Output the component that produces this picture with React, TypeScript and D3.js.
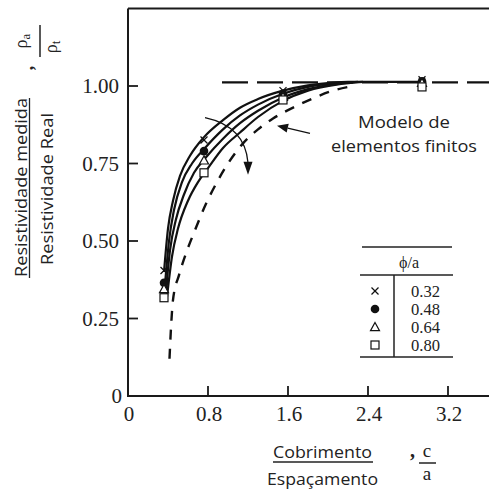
import React from "react";
import * as d3 from "d3";

const xTicks = [0.8, 1.6, 2.4, 3.2];
const xTickLabels = ["0", "0.8", "1.6", "2.4", "3.2"];
const xTickValues = [0, 0.8, 1.6, 2.4, 3.2];
const yTickValues = [0, 0.25, 0.5, 0.75, 1.0];
const yTickLabels = ["0", "0.25", "0.50", "0.75", "1.00"];

const seriesNames = ["0.32", "0.48", "0.64", "0.80"];
const seriesSymbols = ["x", "dot", "tri", "sq"];

const pointX = [0.36, 0.76, 1.55, 2.94];
const pointsA = [0.405, 0.826, 0.985, 1.02];
const pointsB = [0.365, 0.79, 0.975, 1.015];
const pointsC = [0.345, 0.76, 0.965, 1.01];
const pointsD = [0.317, 0.72, 0.955, 0.997];

const curveA: [number, number][] = [[0.36, 0.4], [0.4, 0.54], [0.45, 0.63], [0.52, 0.71], [0.62, 0.775], [0.76, 0.835], [0.95, 0.89], [1.12, 0.93], [1.3, 0.958], [1.55, 0.985], [1.8, 1.002], [2.05, 1.011], [2.2, 1.013], [2.94, 1.013]];
const curveB: [number, number][] = [[0.37, 0.36], [0.41, 0.5], [0.46, 0.6], [0.54, 0.69], [0.64, 0.75], [0.77, 0.8], [0.95, 0.86], [1.12, 0.905], [1.3, 0.94], [1.55, 0.975], [1.8, 0.997], [2.1, 1.01], [2.25, 1.013]];
const curveC: [number, number][] = [[0.38, 0.34], [0.42, 0.47], [0.48, 0.57], [0.56, 0.65], [0.66, 0.72], [0.78, 0.77], [0.95, 0.83], [1.12, 0.88], [1.3, 0.92], [1.55, 0.963], [1.8, 0.99], [2.1, 1.007], [2.3, 1.013]];
const curveD: [number, number][] = [[0.39, 0.32], [0.44, 0.45], [0.5, 0.54], [0.6, 0.63], [0.7, 0.69], [0.8, 0.735], [0.95, 0.8], [1.12, 0.85], [1.3, 0.9], [1.55, 0.952], [1.8, 0.985], [2.1, 1.005], [2.35, 1.013]];

const feModel: [number, number][] = [[0.415, 0.12], [0.43, 0.22], [0.45, 0.31], [0.51, 0.39], [0.58, 0.46], [0.67, 0.535], [0.78, 0.62], [0.89, 0.69], [1.0, 0.75], [1.15, 0.815], [1.3, 0.86], [1.45, 0.895], [1.68, 0.935], [1.85, 0.96], [2.05, 0.985], [2.25, 1.0]];

const asymptote = 1.012;
const asymptoteStart = 0.94;

export default function App() {
  const W = 489, H = 492;
  const x = d3.scaleLinear().domain([0, 3.61]).range([128, 489]);
  const y = d3.scaleLinear().domain([0, 1.25]).range([396, 8.5]);
  const line = d3.line<[number, number]>().x(d => x(d[0])).y(d => y(d[1])).curve(d3.curveMonotoneX);

  const curves = [curveA, curveB, curveC, curveD];
  const pts = [pointsA, pointsB, pointsC, pointsD];

  const sym = (kind: string, cx: number, cy: number, key: string) => {
    if (kind === "x") {
      const s = 3.5;
      return <g key={key} stroke="#111" strokeWidth={1.3}>
        <line x1={cx - s} y1={cy - s} x2={cx + s} y2={cy + s} />
        <line x1={cx - s} y1={cy + s} x2={cx + s} y2={cy - s} />
      </g>;
    }
    if (kind === "dot") return <circle key={key} cx={cx} cy={cy} r={4.3} fill="#111" />;
    if (kind === "tri") {
      const s = 4.5;
      return <path key={key} d={`M${cx},${cy - s}L${cx + s},${cy + s * 0.8}L${cx - s},${cy + s * 0.8}Z`} fill="white" stroke="#111" strokeWidth={1.2} />;
    }
    return <rect key={key} x={cx - 4} y={cy - 4} width={8} height={8} fill="white" stroke="#111" strokeWidth={1.2} />;
  };

  const serif = "'Liberation Serif', 'DejaVu Serif', serif";
  const sans = "'Open Sans', 'Noto Sans', sans-serif";

  const arcStart = [0.77, 0.898];
  const arcCtrl = [1.17, 0.87];
  const arcEnd = [1.2, 0.72];
  const ax0 = x(arcStart[0]), ay0 = y(arcStart[1]);
  const axc = x(arcCtrl[0]), ayc = y(arcCtrl[1]);
  const ax1 = x(arcEnd[0]), ay1 = y(arcEnd[1]);

  const arrStart = [1.82, 0.847];
  const arrEnd = [1.49, 0.872];
  const sx = x(arrStart[0]), sy = y(arrStart[1]);
  const ex = x(arrEnd[0]), ey = y(arrEnd[1]);
  const ang = Math.atan2(ey - sy, ex - sx);
  const hl = 11, hw = 4.5;
  const hx = ex - hl * Math.cos(ang), hy = ey - hl * Math.sin(ang);

  const lgTop = 247, lgMid = 275, lgBot = 357, lgL = 360, lgR = 453, lgDiv = 394;

  return (
    <svg width={W} height={H} style={{ position: "absolute", left: 0, top: 0, background: "white" }}>
      <rect width={W} height={H} fill="white" />
      <g stroke="#1a1a1a" strokeWidth={2} fill="none">
        <line x1={128} y1={y(1.25)} x2={489} y2={y(1.25)} />
        <line x1={128} y1={y(1.25)} x2={128} y2={y(0)} />
        <line x1={127} y1={y(0)} x2={489} y2={y(0)} />
      </g>
      {xTicks.map(t => <line key={"xt" + t} x1={x(t)} x2={x(t)} y1={y(0)} y2={y(0) - 10} stroke="#1a1a1a" strokeWidth={1.8} />)}
      {yTickValues.filter(v => v > 0).map(t => <line key={"yt" + t} x1={128} x2={138} y1={y(t)} y2={y(t)} stroke="#1a1a1a" strokeWidth={1.8} />)}
      {xTickValues.map((t, i) => <text key={"xl" + t} x={x(t) + 1} y={421} textAnchor="middle" fontFamily={serif} fontSize={21} fill="#222">{xTickLabels[i]}</text>)}
      {yTickValues.map((t, i) => <text key={"yl" + t} x={t === 0 ? 122 : 119} y={y(t) + 7} textAnchor="end" fontFamily={serif} fontSize={21} fill="#222">{yTickLabels[i]}</text>)}

      <line x1={x(asymptoteStart)} x2={489} y1={y(asymptote)} y2={y(asymptote)} stroke="#111" strokeWidth={2.2} strokeDasharray="26,9" />
      <path d={line(feModel) || ""} fill="none" stroke="#111" strokeWidth={2.4} strokeDasharray="10,9" />
      {curves.map((c, i) => <path key={"c" + i} d={line(c) || ""} fill="none" stroke="#111" strokeWidth={2.2} />)}
      {pts.map((p, i) => p.map((v, j) => sym(seriesSymbols[i], x(pointX[j]), y(v), `p${i}-${j}`)))}

      <path d={`M${ax0},${ay0}Q${axc},${ayc} ${ax1},${ay1 - 10}`} fill="none" stroke="#111" strokeWidth={1.3} />
      <path d={`M${ax1},${ay1 + 2}L${ax1 - 4.5},${ay1 - 11}L${ax1 + 4.5},${ay1 - 11}Z`} fill="#111" />
      <line x1={sx} y1={sy} x2={hx} y2={hy} stroke="#111" strokeWidth={1.3} />
      <path d={`M${ex},${ey}L${hx - hw * Math.sin(ang)},${hy + hw * Math.cos(ang)}L${hx + hw * Math.sin(ang)},${hy - hw * Math.cos(ang)}Z`} fill="#111" />

      <text x={404} y={128} textAnchor="middle" fontFamily={sans} fontSize={17} fill="#222" textLength={92} lengthAdjust="spacingAndGlyphs">Modelo de</text>
      <text x={404} y={152} textAnchor="middle" fontFamily={sans} fontSize={17} fill="#222" textLength={146} lengthAdjust="spacingAndGlyphs">elementos finitos</text>

      <g stroke="#222" strokeWidth={1.5}>
        <line x1={362} x2={452} y1={lgTop} y2={lgTop} />
        <line x1={lgL} x2={lgR} y1={lgMid} y2={lgMid} />
        <line x1={lgL} x2={lgR} y1={lgBot} y2={lgBot} />
        <line x1={lgDiv} x2={lgDiv} y1={lgMid} y2={lgBot} />
      </g>
      <text x={409} y={268} textAnchor="middle" fontFamily={serif} fontSize={16} fill="#222">ϕ/a</text>
      {seriesNames.map((n, i) => (
        <g key={"lg" + n}>
          {sym(seriesSymbols[i], 375, 291 + i * 18, "ls" + i)}
          <text x={411} y={297 + i * 18} fontFamily={serif} fontSize={16} fill="#222" textLength={29} lengthAdjust="spacingAndGlyphs">{n}</text>
        </g>
      ))}

      <text x={322.5} y={458} textAnchor="middle" fontFamily={sans} fontSize={17} fill="#222" textLength={99} lengthAdjust="spacingAndGlyphs">Cobrimento</text>
      <line x1={273} x2={373} y1={462} y2={462} stroke="#222" strokeWidth={1.3} />
      <text x={322.5} y={485} textAnchor="middle" fontFamily={sans} fontSize={17} fill="#222" textLength={111} lengthAdjust="spacingAndGlyphs">Espaçamento</text>
      <text x={410} y={457} fontFamily={serif} fontSize={20} fontWeight="bold" fill="#222">,</text>
      <text x={427} y={457} textAnchor="middle" fontFamily={serif} fontSize={19} fill="#222">c</text>
      <line x1={419} x2={436} y1={463} y2={463} stroke="#222" strokeWidth={1.5} />
      <text x={427} y={480} textAnchor="middle" fontFamily={serif} fontSize={19} fill="#222">a</text>

      <g transform="translate(27,187.5) rotate(-90)">
        <text x={0} y={0} textAnchor="middle" fontFamily={sans} fontSize={17} fill="#222" textLength={179} lengthAdjust="spacingAndGlyphs">Resistividade medida</text>
      </g>
      <line x1={29.5} x2={29.5} y1={98} y2={278} stroke="#222" strokeWidth={1.3} />
      <g transform="translate(53,189) rotate(-90)">
        <text x={0} y={0} textAnchor="middle" fontFamily={sans} fontSize={17} fill="#222" textLength={152} lengthAdjust="spacingAndGlyphs">Resistividade Real</text>
      </g>
      <g transform="translate(40,41) rotate(-90)">
        <text x={0} y={-13} textAnchor="middle" fontFamily={serif} fontSize={18} fill="#222">ρ<tspan fontSize={13} dy={3}>a</tspan></text>
        <line x1={-16} x2={16} y1={0} y2={0} stroke="#222" strokeWidth={1.5} />
        <text x={-6} y={17} textAnchor="middle" fontFamily={serif} fontSize={18} fill="#222">ρ<tspan fontSize={13} dy={3}>t</tspan></text>
      </g>
      <g transform="translate(33,68) rotate(-90)">
        <text x={0} y={0} textAnchor="middle" fontFamily={serif} fontSize={18} fontWeight="bold" fill="#222">,</text>
      </g>
    </svg>
  );
}
